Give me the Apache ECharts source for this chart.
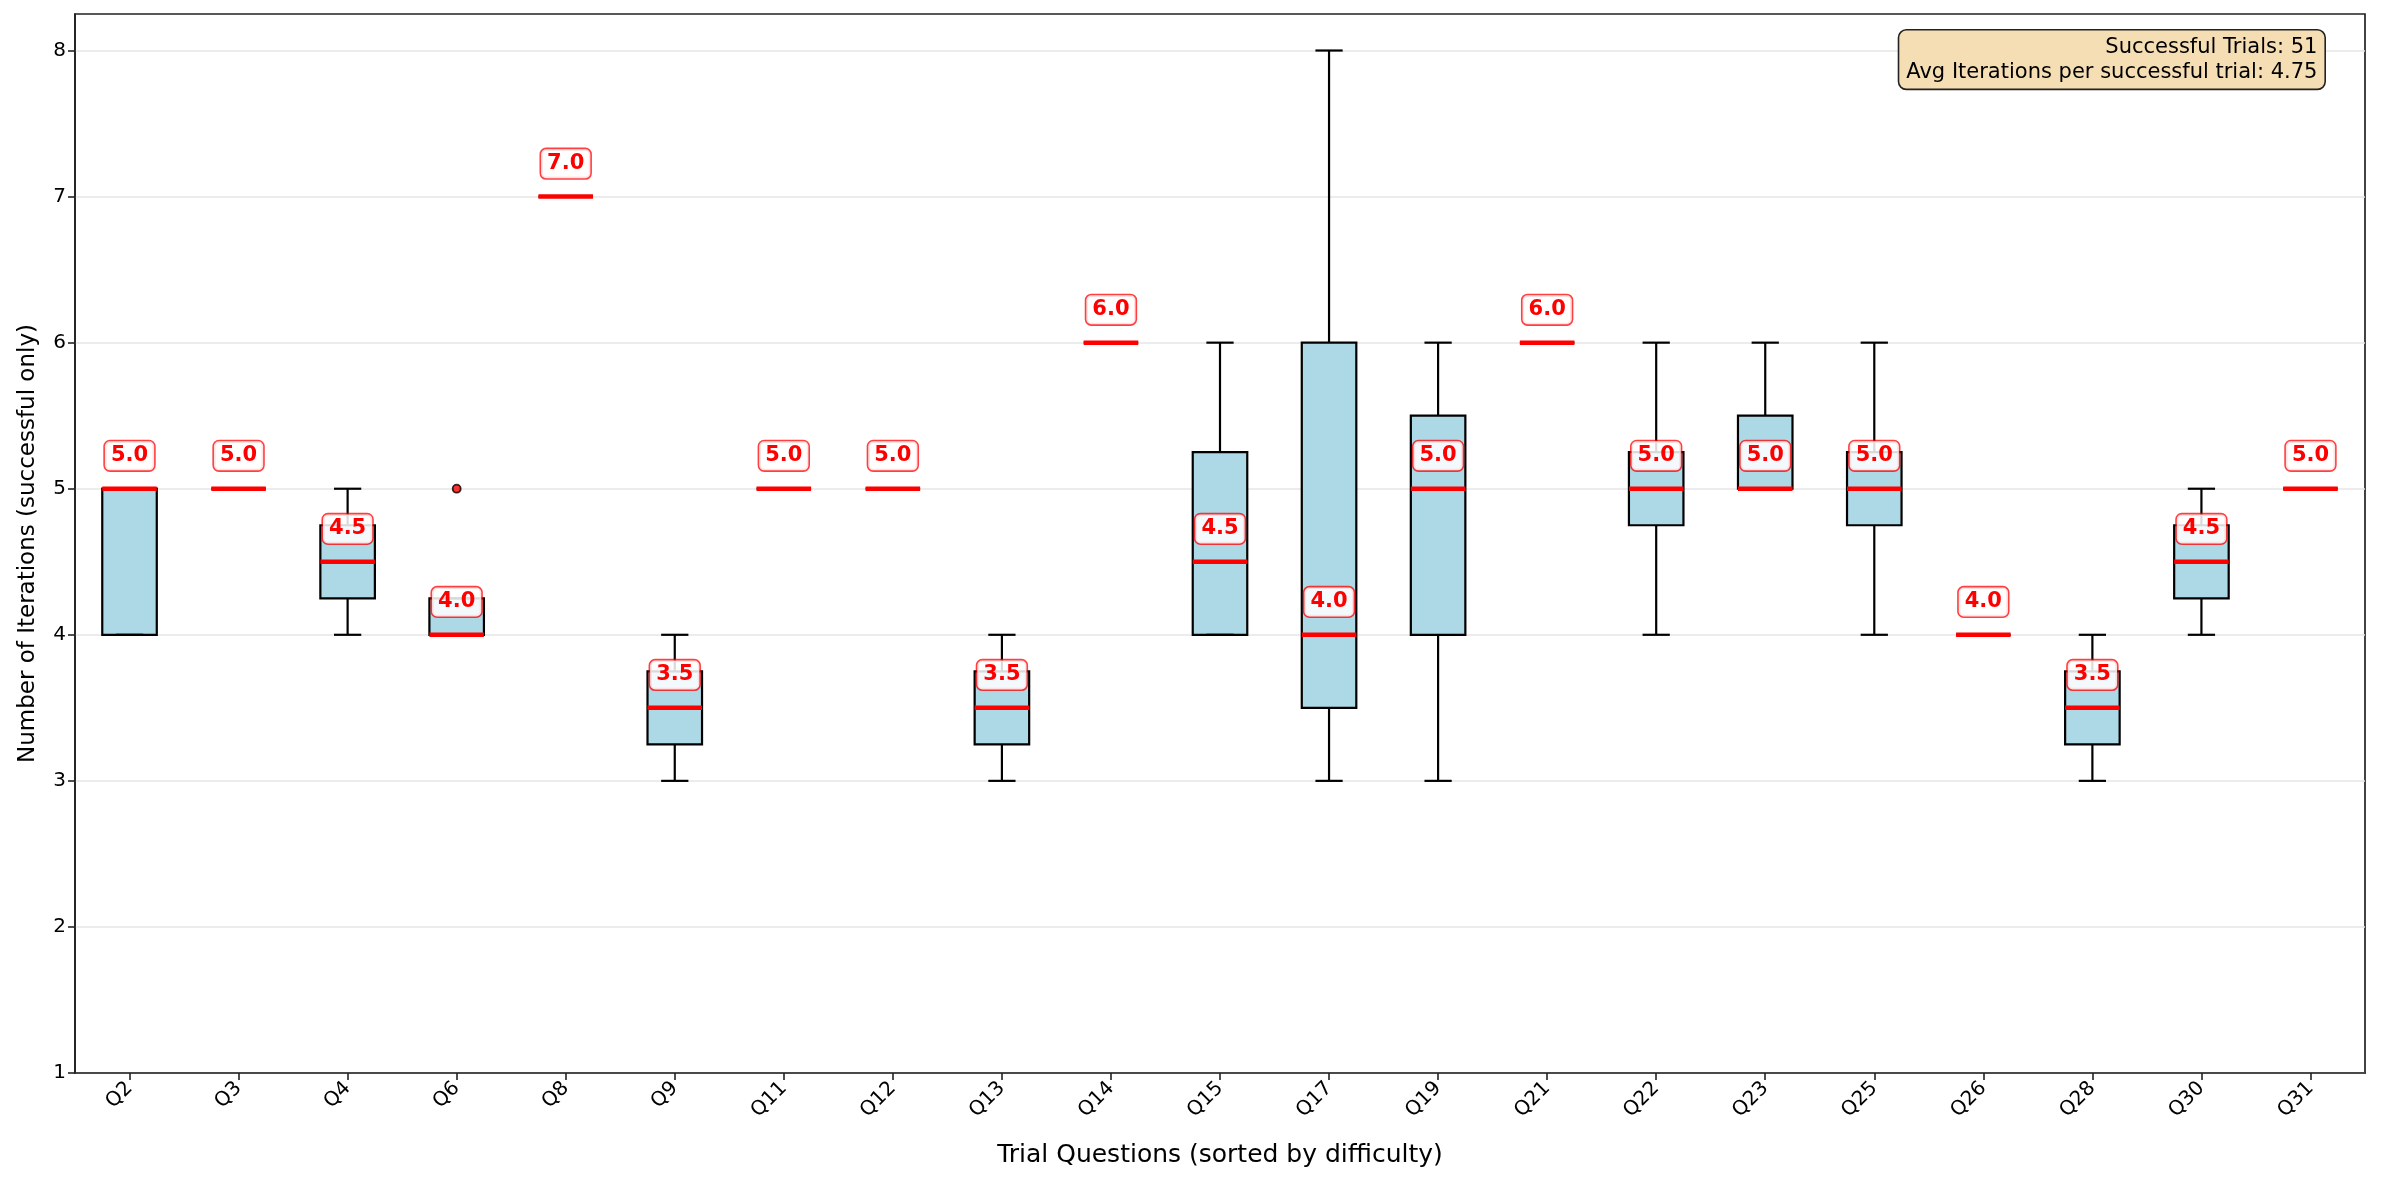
<!DOCTYPE html>
<html>
<head>
<meta charset="utf-8">
<script src="https://cdn.jsdelivr.net/npm/echarts@6/dist/echarts.min.js"></script>
<style>
  html, body { margin: 0; padding: 0; background: #fff; }
  #chart { width: 2382px; height: 1183px; }
</style>
</head>
<body>
<div id="chart"></div>
<script>
// questions sorted by difficulty
const categories = ['Q2', 'Q3', 'Q4', 'Q6', 'Q8', 'Q9', 'Q11', 'Q12', 'Q13', 'Q14', 'Q15',
  'Q17', 'Q19', 'Q21', 'Q22', 'Q23', 'Q25', 'Q26', 'Q28', 'Q30', 'Q31']
const whiskerLow = [4, 5, 4, 4, 7, 3, 5, 5, 3, 6, 4, 3, 3, 6, 4, 5, 4, 4, 3, 4, 5]
const q1 = [4, 5, 4.25, 4, 7, 3.25, 5, 5, 3.25, 6, 4, 3.5, 4, 6, 4.75, 5, 4.75, 4, 3.25, 4.25, 5]
const medians = [5, 5, 4.5, 4, 7, 3.5, 5, 5, 3.5, 6, 4.5, 4, 5, 6, 5, 5, 5, 4, 3.5, 4.5, 5]
const q3 = [5, 5, 4.75, 4.25, 7, 3.75, 5, 5, 3.75, 6, 5.25, 6, 5.5, 6, 5.25, 5.5, 5.25, 4, 3.75, 4.75, 5]
const whiskerHigh = [5, 5, 5, 4.25, 7, 4, 5, 5, 4, 6, 6, 8, 6, 6, 6, 6, 6, 4, 4, 5, 5]
const outliers = [['Q6', 5]]
const yTicks = [1, 2, 3, 4, 5, 6, 7, 8]
const successfulTrials = 51
const avgIterations = 4.75

const FONT = 'DejaVu Sans'
const labelOffset = 0.225 // label centre sits this far above the median

const boxData = categories.map((c, i) => [i, whiskerLow[i], q1[i], medians[i], q3[i], whiskerHigh[i]])

function renderBox(params, api) {
  const idx = api.value(0)
  const lo = api.coord([idx, api.value(1)])
  const b1 = api.coord([idx, api.value(2)])
  const md = api.coord([idx, api.value(3)])
  const b3 = api.coord([idx, api.value(4)])
  const hi = api.coord([idx, api.value(5)])
  const lab = api.coord([idx, api.value(3) + labelOffset])
  const bw = api.size([1, 0])[0] * 0.5
  const cw = bw * 0.5
  const x = md[0]
  const black = { stroke: '#000', lineWidth: 2.2 }
  return {
    type: 'group',
    children: [
      { type: 'line', shape: { x1: x, y1: lo[1], x2: x, y2: b1[1] }, style: black },
      { type: 'line', shape: { x1: x, y1: b3[1], x2: x, y2: hi[1] }, style: black },
      {
        type: 'rect',
        shape: { x: x - bw / 2, y: b3[1], width: bw, height: b1[1] - b3[1] },
        style: { fill: '#add8e6', stroke: '#000', lineWidth: 2.2 }
      },
      { type: 'line', shape: { x1: x - cw / 2, y1: lo[1], x2: x + cw / 2, y2: lo[1] }, style: black },
      { type: 'line', shape: { x1: x - cw / 2, y1: hi[1], x2: x + cw / 2, y2: hi[1] }, style: black },
      {
        type: 'line',
        shape: { x1: x - bw / 2, y1: md[1], x2: x + bw / 2, y2: md[1] },
        style: { stroke: '#ff0000', lineWidth: 4.5 }
      },
      {
        type: 'text',
        x: x,
        y: lab[1],
        z2: 10,
        style: {
          text: api.value(3).toFixed(1),
          fill: '#ff0000',
          font: 'bold 21px "' + FONT + '"',
          align: 'center',
          verticalAlign: 'middle',
          backgroundColor: 'rgba(255,255,255,0.85)',
          borderColor: 'rgba(255,0,0,0.75)',
          borderWidth: 1.6,
          borderRadius: 5,
          padding: [4, 6, 4, 6]
        }
      }
    ]
  }
}

const chart = echarts.init(document.getElementById('chart'))
chart.setOption({
  animation: false,
  backgroundColor: '#fff',
  textStyle: { fontFamily: FONT },
  grid: {
    left: 75, right: 17, top: 14, bottom: 110,
    show: true, borderColor: '#222', borderWidth: 1.7
  },
  xAxis: {
    type: 'category',
    data: categories,
    boundaryGap: true,
    name: 'Trial Questions (sorted by difficulty)',
    nameLocation: 'middle',
    nameGap: 70,
    nameTextStyle: { fontSize: 25, color: '#000', fontFamily: FONT },
    axisLine: { show: true, lineStyle: { color: '#222', width: 1.7 } },
    axisTick: { show: true, alignWithLabel: true, interval: 0, length: 7, lineStyle: { color: '#222', width: 1.6 } },
    axisLabel: { interval: 0, rotate: 45, margin: 12, fontSize: 20, color: '#000', fontFamily: FONT },
    splitLine: { show: false }
  },
  yAxis: {
    type: 'value',
    min: 1,
    max: 8.25,
    interval: 1,
    name: 'Number of Iterations (successful only)',
    nameLocation: 'middle',
    nameGap: 35,
    nameTextStyle: { fontSize: 23, color: '#000', fontFamily: FONT },
    axisLine: { show: true, lineStyle: { color: '#222', width: 1.7 } },
    axisTick: { show: true, length: 7, customValues: yTicks, lineStyle: { color: '#222', width: 1.6 } },
    axisLabel: { fontSize: 20, color: '#000', margin: 9, customValues: yTicks, fontFamily: FONT },
    splitLine: { show: true, lineStyle: { color: '#e6e6e6', width: 1.6 } }
  },
  series: [
    {
      type: 'custom',
      renderItem: renderBox,
      data: boxData,
      encode: { x: 0, y: [1, 2, 3, 4, 5] },
      z: 3
    },
    {
      type: 'scatter',
      data: outliers,
      symbol: 'circle',
      symbolSize: 8,
      itemStyle: { color: '#ff0000', borderColor: '#000', borderWidth: 1.8 },
      z: 4
    }
  ],
  graphic: [
    {
      type: 'text',
      right: 56,
      top: 29,
      z: 100,
      style: {
        text: 'Successful Trials: ' + successfulTrials + '\nAvg Iterations per successful trial: ' + avgIterations,
        font: '21px "' + FONT + '"',
        fill: '#000',
        align: 'right',
        textAlign: 'right',
        lineHeight: 25,
        backgroundColor: '#f5deb3',
        borderColor: '#222',
        borderWidth: 1.6,
        borderRadius: 7,
        padding: [4, 7, 4, 7]
      }
    }
  ]
})
</script>
</body>
</html>
